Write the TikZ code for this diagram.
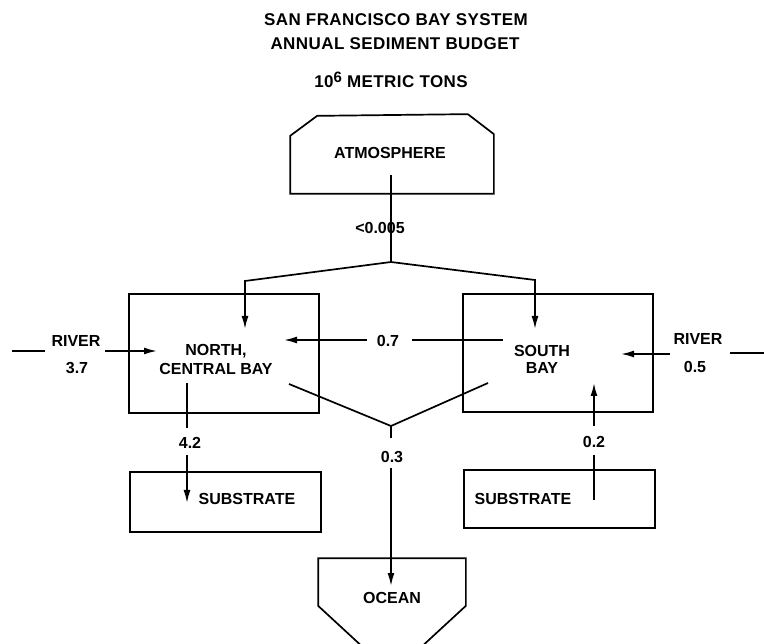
\documentclass[tikz,border=0pt]{standalone}
\usepackage{fontspec}
\setmainfont{Liberation Sans}
\newfontfamily\ttlfont{Liberation Sans}[LetterSpace=2.5]
\usetikzlibrary{arrows.meta}
\begin{document}
\begin{tikzpicture}[x=1pt,y=-1pt,line width=1.7pt,
  lbl/.style={font=\fontsize{16}{19}\selectfont\bfseries,inner sep=0pt,align=center},
  ttl/.style={font=\fontsize{17}{20}\selectfont\ttlfont\bfseries,inner sep=0pt},
  arr/.style={-{Latex[length=13pt,width=7pt]}},
  boxnode/.style={draw,rectangle,inner sep=0pt},
  ghost/.style={rectangle,inner sep=0pt}]
\useasboundingbox (0,0) rectangle (764,644);
\clip (0,0) rectangle (764,644);

% titles
\node[ttl] (t1) at (396,20) {SAN FRANCISCO BAY SYSTEM};
\node[ttl] (t2) at (395,44) {ANNUAL SEDIMENT BUDGET};
\node[ttl] (t3) at (391,80) {10\raisebox{5pt}{\fontsize{15}{15}\selectfont 6} METRIC TONS};

% atmosphere (chamfered top corners)
\node[ghost,minimum width=202pt,minimum height=78pt] (atm) at (392,154) {};
\draw (atm.south west) -- ++(0,-58) -- ++(27,-20) -- ([xshift=-26pt]atm.north east)
      -- ++(26,20) -- (atm.south east) -- cycle;
\node[lbl] (atmtxt) at (390,153) {ATMOSPHERE};

% bays
\node[boxnode,minimum width=190pt,minimum height=119pt] (north) at (224,353.5) {};
\node[lbl] (northtxt) at (216,359) {NORTH,\\CENTRAL BAY};
\node[boxnode,minimum width=190pt,minimum height=118pt] (south) at (558,353) {};
\node[lbl] (southtxt) at (542,359.5) {SOUTH\\[-2pt]BAY};

% substrates
\node[boxnode,minimum width=191pt,minimum height=60pt] (subl) at (225.5,502) {};
\node[lbl] (subltxt) at (247,499) {SUBSTRATE};
\node[boxnode,minimum width=191pt,minimum height=58pt] (subr) at (559.5,499) {};
\node[lbl] (subrtxt) at (523,499) {SUBSTRATE};

% ocean (pointed bottom, cut by the frame)
\node[ghost,minimum width=146pt,minimum height=46pt] (ocean) at (392,582) {};
\draw (ocean.south west) -- (ocean.north west) -- (ocean.north east) -- (ocean.south east)
      -- (392,674) -- cycle;
\node[lbl] (oceantxt) at (392,598) {OCEAN};

% atmosphere -> bays
\coordinate (atmout) at (391,175);
\coordinate (j1) at (391,262);
\coordinate (jl) at (245,281);
\coordinate (jr) at (535,280);
\draw (atmout) -- (j1);
\draw[arr] (j1) -- (jl) -- (245,329);
\draw[arr] (j1) -- (jr) -- (535,329);
\node[lbl] (atmval) at (380,228) {<0.005};

% left river
\coordinate (rl0) at (12,351);
\coordinate (rl1) at (45,351);
\coordinate (rl2) at (105,351);
\coordinate (rl3) at (157,351);
\draw (rl0) -- (rl1);
\draw[arr] (rl2) -- (rl3);
\node[lbl] (rivl) at (76,341) {RIVER};
\node[lbl] (rivlv) at (77,368) {3.7};

% south -> north 0.7
\coordinate (sn0) at (503,340);
\coordinate (sn1) at (412,340);
\coordinate (sn2) at (367,340);
\coordinate (sn3) at (284,340);
\draw (sn0) -- (sn1);
\draw[arr] (sn2) -- (sn3);
\node[lbl] (snv) at (388,341) {0.7};

% right river
\coordinate (rr0) at (764,353);
\coordinate (rr1) at (730,353);
\coordinate (rr2) at (670,354);
\coordinate (rr3) at (621,354);
\draw (rr0) -- (rr1);
\draw[arr] (rr2) -- (rr3);
\node[lbl] (rivr) at (698,339) {RIVER};
\node[lbl] (rivrv) at (695,367) {0.5};

% bays -> ocean
\coordinate (vl) at (289,384);
\coordinate (vr) at (488,383);
\coordinate (j2) at (391,426);
\coordinate (oc1) at (391,438);
\coordinate (oc2) at (391,468);
\coordinate (oc3) at (391,586);
\draw (vl) -- (j2) -- (vr);
\draw (j2) -- (oc1);
\draw[arr] (oc2) -- (oc3);
\node[lbl] (ocv) at (392,457) {0.3};

% north -> substrate 4.2
\coordinate (ns0) at (187,383);
\coordinate (ns1) at (187,428);
\coordinate (ns2) at (187,455);
\coordinate (ns3) at (187,503);
\draw (ns0) -- (ns1);
\draw[arr] (ns2) -- (ns3);
\node[lbl] (nsv) at (190,443) {4.2};

% substrate -> south 0.2
\coordinate (ss0) at (594,500);
\coordinate (ss1) at (594,455);
\coordinate (ss2) at (594,426);
\coordinate (ss3) at (594,383);
\draw (ss0) -- (ss1);
\draw[arr] (ss2) -- (ss3);
\node[lbl] (ssv) at (594,442) {0.2};
\end{tikzpicture}
\end{document}
